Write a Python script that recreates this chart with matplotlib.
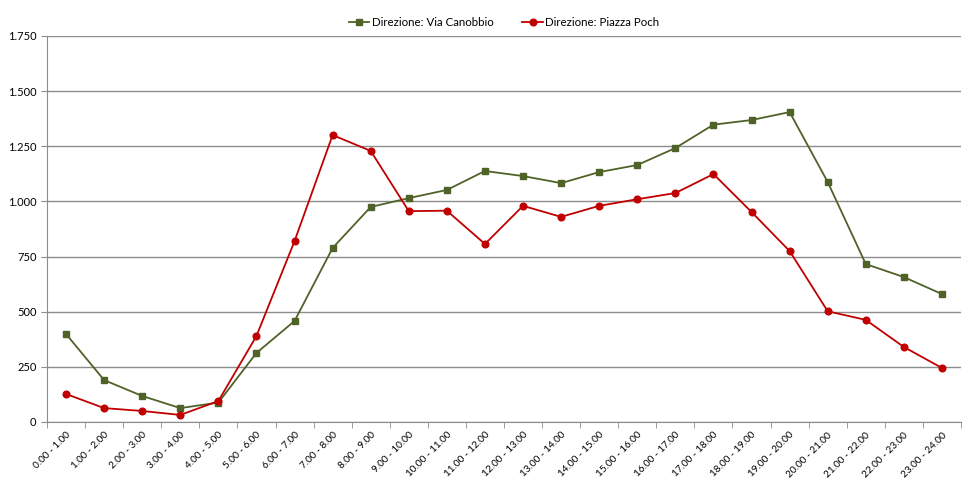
import numpy as np
import matplotlib.pyplot as plt
from matplotlib.ticker import FuncFormatter

plt.rcParams['font.family'] = ['Lato', 'DejaVu Sans']

hours = [str(h) + ".00 - " + str(h + 1) + ".00" for h in range(24)]
via_canobbio = [399, 190, 118, 63, 88, 313, 458, 789, 975, 1015, 1052, 1138,
                1115, 1083, 1133, 1165, 1242, 1348, 1369, 1405, 1088, 716, 657, 580]
piazza_poch = [127, 63, 50, 32, 95, 390, 820, 1301, 1229, 956, 958, 807,
               980, 930, 980, 1010, 1038, 1124, 952, 775, 502, 463, 340, 245]

fig = plt.figure(figsize=(9.69, 4.78), dpi=100)
ax = fig.add_axes([47 / 969, 56 / 478, 914 / 969, 386 / 478])

x = np.arange(len(hours))
ax.plot(x, via_canobbio, color="#4F6228", marker="s", markersize=4.2,
        linewidth=1.3, label="Direzione: Via Canobbio")
ax.plot(x, piazza_poch, color="#C00000", marker="o", markersize=4.8,
        linewidth=1.3, label="Direzione: Piazza Poch")

ax.set_xlim(-0.5, 23.5)
ax.set_ylim(0, 1750)
ax.set_yticks(np.arange(0, 1751, 250))
ax.yaxis.set_major_formatter(FuncFormatter(lambda v, p: "{:,.0f}".format(v).replace(",", ".")))
ax.grid(axis="y", color="#8c8c8c", linewidth=1)
ax.set_axisbelow(True)

ax.set_xticks(x)
ax.set_xticklabels(hours, rotation=45, ha="right", rotation_mode="anchor", fontsize=7.2)
ax.set_xticks(np.arange(-0.5, 24, 1), minor=True)
ax.tick_params(axis="x", which="major", length=0, pad=6)
ax.tick_params(axis="x", which="minor", length=4, color="#8c8c8c")
ax.tick_params(axis="y", length=4, color="#8c8c8c", labelsize=8)

for s in ["top", "right"]:
    ax.spines[s].set_visible(False)
for s in ["left", "bottom"]:
    ax.spines[s].set_color("#8c8c8c")

ax.legend(loc="upper center", bbox_to_anchor=(0.5, 1.075), ncol=2, frameon=False,
          fontsize=8.3, handlelength=1.8, columnspacing=2.5, handletextpad=0.2)

plt.savefig("out.png")
